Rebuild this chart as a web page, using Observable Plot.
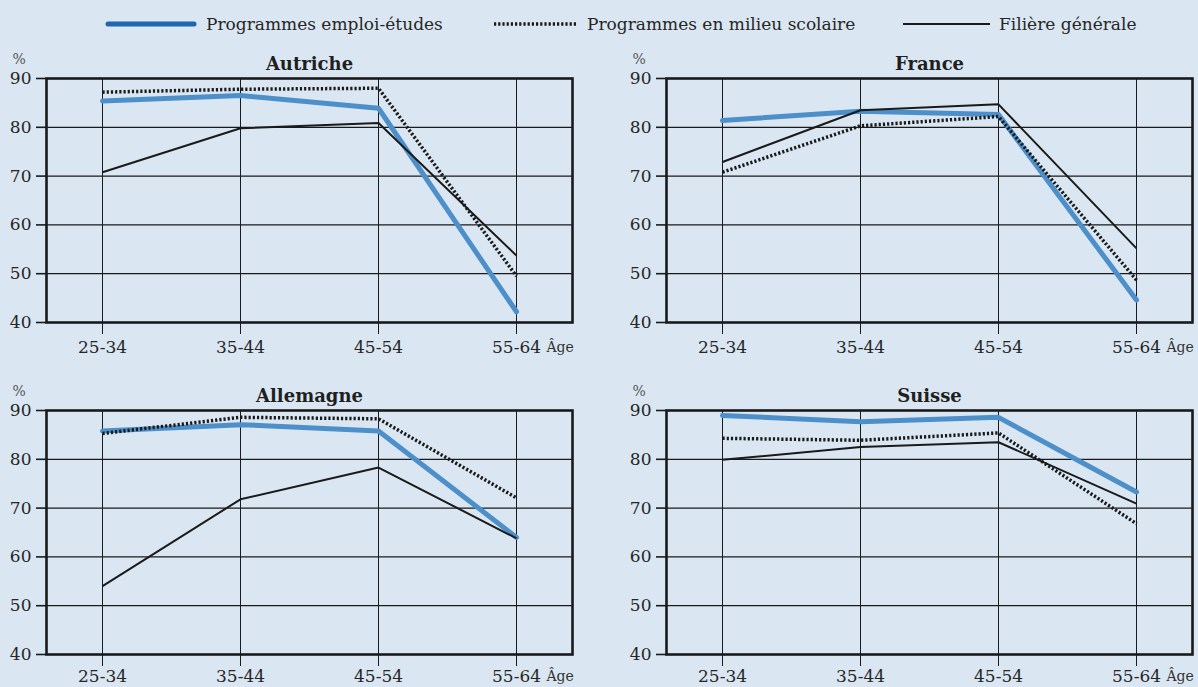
<!DOCTYPE html>
<html><head><meta charset="utf-8">
<script src="https://cdn.jsdelivr.net/npm/d3@7"></script>
<script src="https://cdn.jsdelivr.net/npm/@observablehq/plot@0.6"></script>
<style>
html,body{margin:0;padding:0;background:#dae7f2;}
#chart{position:relative;width:1198px;height:687px;background:#dae7f2;overflow:hidden;font-family:"DejaVu Serif",serif;color:#262626;}
.panel{position:absolute;}
.panel svg{overflow:visible;background:transparent;}
#legend{position:absolute;top:10px;left:0;width:1198px;height:28px;}
.item{position:absolute;top:0;height:28px;display:flex;align-items:center;font-size:17px;white-space:nowrap;}
.item svg{margin-right:9px;}
</style></head><body><div id="chart"><div id="legend"></div></div>
<script>
// ---- data ----
const ages = ["25-34", "35-44", "45-54", "55-64"];
const countries = ["Autriche", "France", "Allemagne", "Suisse"];
const seriesNames = ["Programmes emploi-études", "Programmes en milieu scolaire", "Filière générale"];
const yTicks = [40, 50, 60, 70, 80, 90];

const autricheEmploi  = [85.4, 86.5, 83.9, 42.2];
const autricheScolaire = [87.2, 87.8, 88.0, 49.5];
const autricheGenerale = [70.8, 79.8, 80.9, 53.7];

const franceEmploi  = [81.4, 83.3, 82.6, 44.6];
const franceScolaire = [70.8, 80.3, 82.2, 48.7];
const franceGenerale = [72.9, 83.5, 84.7, 55.2];

const allemagneEmploi  = [85.8, 87.1, 85.8, 64.0];
const allemagneScolaire = [85.3, 88.6, 88.3, 72.1];
const allemagneGenerale = [54.0, 71.8, 78.3, 63.8];

const suisseEmploi  = [89.0, 87.7, 88.6, 73.3];
const suisseScolaire = [84.3, 83.9, 85.4, 66.8];
const suisseGenerale = [79.9, 82.5, 83.5, 70.9];

// ---- styles ----
const BLUE = "#4d8fc9";
const INK = "#1a1a1a";
const styles = [
  {stroke: BLUE, strokeWidth: 5, strokeLinecap: "round", strokeLinejoin: "round"},
  {stroke: INK, strokeWidth: 3.5, strokeDasharray: "2.2,2", strokeLinecap: "butt", strokeLinejoin: "miter"},
  {stroke: INK, strokeWidth: 2, strokeLinecap: "butt", strokeLinejoin: "miter"}
];

const chart = document.getElementById("chart");

// ---- legend ----
const legend = document.getElementById("legend");
const legendPos = [{left: 105, w: 92}, {left: 494, w: 84}, {left: 903, w: 87}];
const legendStroke = [
  {stroke: "#1f66b0", width: 5, dash: null, cap: "round"},
  {stroke: INK, width: 3.5, dash: "2.2,2", cap: "butt"},
  {stroke: INK, width: 2, dash: null, cap: "butt"}
];
seriesNames.forEach((name, i) => {
  const item = document.createElement("div");
  item.className = "item";
  item.style.left = legendPos[i].left + "px";
  const ns = "http://www.w3.org/2000/svg";
  const svg = document.createElementNS(ns, "svg");
  svg.setAttribute("width", legendPos[i].w);
  svg.setAttribute("height", 10);
  const line = document.createElementNS(ns, "line");
  const s = legendStroke[i];
  line.setAttribute("x1", s.cap === "round" ? 3 : 0);
  line.setAttribute("x2", legendPos[i].w - (s.cap === "round" ? 3 : 0));
  line.setAttribute("y1", 5); line.setAttribute("y2", 5);
  line.setAttribute("stroke", s.stroke);
  line.setAttribute("stroke-width", s.width);
  line.setAttribute("stroke-linecap", s.cap);
  if (s.dash) line.setAttribute("stroke-dasharray", s.dash);
  svg.appendChild(line);
  item.appendChild(svg);
  const span = document.createElement("span");
  span.textContent = name;
  item.appendChild(span);
  legend.appendChild(item);
});

// ---- panels ----
const panelValues = {
  "Autriche": [autricheEmploi, autricheScolaire, autricheGenerale],
  "France": [franceEmploi, franceScolaire, franceGenerale],
  "Allemagne": [allemagneEmploi, allemagneScolaire, allemagneGenerale],
  "Suisse": [suisseEmploi, suisseScolaire, suisseGenerale]
};
const layout = [
  {left: 0,   top: 35,  width: 599, marginLeft: 46, marginRight: 27, marginBottom: 40, pad: 6},
  {left: 620, top: 35,  width: 578, marginLeft: 46, marginRight: 6,  marginBottom: 40, pad: 6},
  {left: 0,   top: 367, width: 599, marginLeft: 46, marginRight: 27, marginBottom: 34, pad: 3},
  {left: 620, top: 367, width: 578, marginLeft: 46, marginRight: 6,  marginBottom: 34, pad: 3}
];

countries.forEach((country, k) => {
  const L = layout[k];
  const vals = panelValues[country];
  const rows = [];
  seriesNames.forEach((s, i) => ages.forEach((a, j) => rows.push({series: s, age: a, value: vals[i][j]})));
  const marks = [
    Plot.gridY(yTicks, {stroke: INK, strokeOpacity: 1, strokeWidth: 1.2}),
    Plot.gridX(ages, {stroke: INK, strokeOpacity: 1, strokeWidth: 1}),
    Plot.axisY(yTicks, {tickSize: 10, tickPadding: 5, stroke: INK, strokeWidth: 1.6, fontSize: 17, fill: "#262626", label: null}),
    Plot.axisX(ages, {tickSize: 12, tickPadding: L.pad, stroke: INK, strokeWidth: 1, fontSize: 17, fill: "#262626", label: null}),
    Plot.frame({stroke: INK, strokeWidth: 2.6}),
  ];
  seriesNames.forEach((s, i) => {
    marks.push(Plot.lineY(rows.filter(d => d.series === s), {x: "age", y: "value", ...styles[i]}));
  });
  marks.push(
    Plot.text([country], {text: d => d, frameAnchor: "top", dy: -9, lineAnchor: "bottom", fontSize: 18, fontWeight: "bold", fill: "#1f1f1f"}),
    Plot.text(["%"], {text: d => d, frameAnchor: "top-left", dx: -34, dy: -15, lineAnchor: "bottom", textAnchor: "start", fontSize: 14, fill: "#555"}),
    Plot.text(["Âge"], {text: d => d, x: () => ages[ages.length - 1], frameAnchor: "bottom", dx: 30, dy: 14 + L.pad, lineAnchor: "top", textAnchor: "start", fontSize: 14, fill: "#333"})
  );
  const plot = Plot.plot({
    width: L.width,
    height: 43 + 244 + L.marginBottom,
    marginTop: 43, marginBottom: L.marginBottom, marginLeft: L.marginLeft, marginRight: L.marginRight,
    style: {background: "transparent", fontFamily: "'DejaVu Serif', serif", fontSize: "17px", color: "#262626", overflow: "visible"},
    x: {type: "point", domain: ages, padding: 0.4, axis: null},
    y: {domain: [40, 90], axis: null},
    marks
  });
  const div = document.createElement("div");
  div.className = "panel";
  div.style.left = L.left + "px";
  div.style.top = L.top + "px";
  div.appendChild(plot);
  chart.appendChild(div);
});
</script></body></html>
